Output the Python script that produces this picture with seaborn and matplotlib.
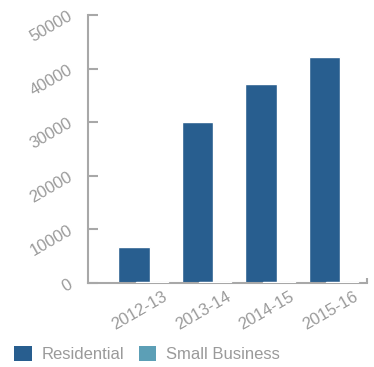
import numpy as np
import matplotlib
matplotlib.use("Agg")
import matplotlib.pyplot as plt
import seaborn as sns
from matplotlib.patches import Patch

# Customer counts by financial year
years = ["2012-13", "2013-14", "2014-15", "2015-16"]
residential = [6700, 30000, 37100, 42200]
small_business = [100, 100, 100, 100]
y_ticks = [0, 10000, 20000, 30000, 40000, 50000]

DARK = "#285E8F"
LIGHT = "#5C9FB6"
GREY_TXT = "#9A9A9A"
GREY_AX = "#A8A8A8"

sns.set_theme(style="white")
plt.rcParams["font.family"] = ["Liberation Sans", "DejaVu Sans"]

W, H = 374, 367
fig = plt.figure(figsize=(W / 100, H / 100), dpi=100)
ax = fig.add_axes([88 / W, 84 / H, (367 - 88) / W, (283 - 15) / H])

pos = np.arange(len(years))
sns.barplot(x=pos, y=residential, native_scale=True, width=0.5,
            color=DARK, saturation=1, ax=ax, zorder=2)
sns.barplot(x=pos + 0.28, y=small_business, native_scale=True, width=0.5,
            color=LIGHT, saturation=1, ax=ax, zorder=3)

ax.set_xlim(-0.724, 3.67)
ax.set_ylim(0, 50000)

# Axes styling
for side in ["top", "right"]:
    ax.spines[side].set_visible(False)
for side in ["left", "bottom"]:
    ax.spines[side].set_color(GREY_AX)
    ax.spines[side].set_linewidth(1.5)

ax.set_yticks(y_ticks)
ax.set_yticklabels([str(v) for v in y_ticks], rotation=30,
                   rotation_mode="anchor", ha="right", va="center",
                   color=GREY_TXT, fontsize=12)
ax.tick_params(axis="y", direction="in", length=7, width=1.5,
               color=GREY_AX, pad=12, left=True)

ax.set_xticks(pos + 0.09)
ax.set_xticklabels(years, rotation=30, ha="center", color=GREY_TXT, fontsize=12)
ax.tick_params(axis="x", length=0, pad=4)

# small end tick on the right of the category axis
ax.plot([1, 1], [0, 0.018], transform=ax.transAxes, color=GREY_AX,
        lw=1.5, clip_on=False, solid_capstyle="butt")

ax.set_xlabel("")
ax.set_ylabel("")
ax.grid(False)

handles = [Patch(facecolor=DARK, edgecolor="none", label="Residential"),
           Patch(facecolor=LIGHT, edgecolor="none", label="Small Business")]
fig.legend(handles=handles, loc="center left",
           bbox_to_anchor=(6 / W, 13 / H), ncol=2, frameon=False,
           fontsize=12, handlelength=1.05, handleheight=1.05,
           handletextpad=0.6, columnspacing=0.85, borderpad=0,
           labelcolor=GREY_TXT)

fig.savefig("out.png", dpi=100)
